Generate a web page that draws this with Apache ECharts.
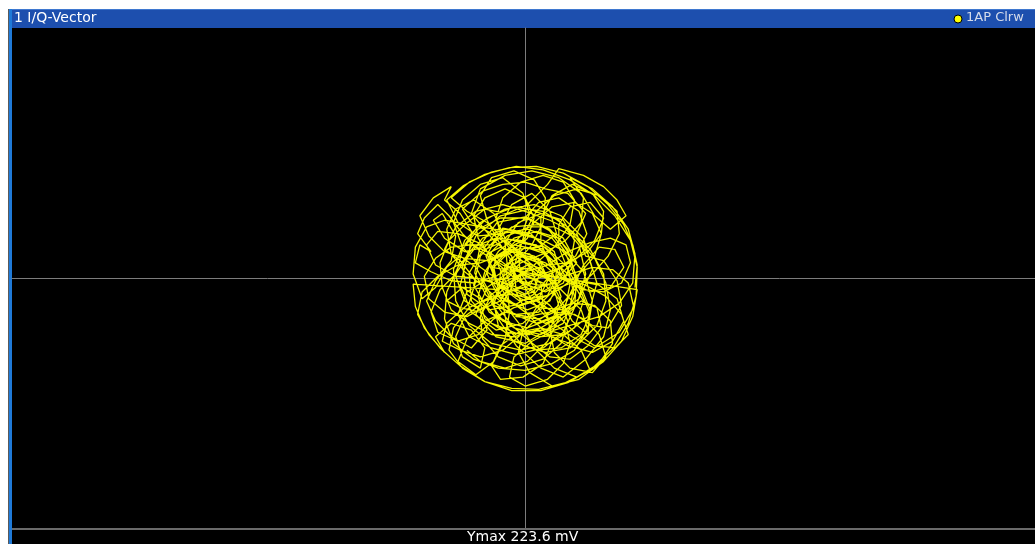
<!DOCTYPE html>
<html>
<head>
<meta charset="utf-8">
<script src="https://cdn.jsdelivr.net/npm/echarts@6/dist/echarts.min.js"></script>
<style>
html,body{margin:0;padding:0;background:#fff;}
#c{width:1035px;height:544px;}
</style>
</head>
<body>
<div id="c"></div>
<script>
// I/Q trace points [I, Q] in mV
const traceOuter = [
[98,-8],[100,12],[96,30],[88,48],[74,66],[56,82],[34,94],[10,100],[-14,99],[-36,93],[-55,83],[-70,70],[-60,50],[-42,38],[-20,40],[-2,52],[12,68],[30,72],[48,60],[55,40],[45,20],[28,8],[8,2],[-12,8],[-30,22],[-48,30],[-66,28],[-80,18],[-90,2],[-86,-18],[-72,-30],[-52,-34],[-34,-24],[-18,-8],[-2,4],[16,-4],[30,-18],[38,-38],[32,-58],[16,-72],[-4,-78],[-24,-70],[-38,-54],[-40,-34],[-30,-14],[-12,-2],[8,12],[26,28],[40,48],[44,70],[34,86],[16,92],[-4,86],[-20,72],[-26,54],[-20,34],[-6,18],[12,6],[32,0],[54,-6],[72,-16],[86,-32],[92,-50],[80,-62],[62,-60],[44,-48],[28,-32],[10,-20],[-10,-14],[-30,-16],[-50,-26],[-64,-44],[-68,-64],[-56,-80],[-36,-92],[-12,-98],[12,-99],[36,-93],[58,-82],[50,-64],[34,-50],[14,-44],[-6,-48],[-22,-60],[-30,-78],[-22,-90],[-2,-88],[16,-76],[24,-56],[20,-34],[8,-12],[-8,10],[-22,30],[-34,52],[-40,74],[-30,90],[-10,96],[8,88],[18,72],[16,50],[6,30],[-8,14],[-26,2],[-46,-4],[-66,-2],[-84,6],[-98,14],[-94,30],[-84,24],[-96,40],[-90,54],[-78,66],[-68,56],[-56,40],[-40,24],[-20,12],[0,6],[20,12],[38,24],[58,32],[76,36],[90,30],[94,14],[86,-4],[70,-12],[52,-10],[36,-2],[22,12],[14,32],[14,54],[24,74],[42,84],[60,76],[70,60],[68,40],[56,24],[38,14],[18,12],[-2,20],[-18,36],[-28,58],[-46,70],[-62,62],[-70,44],[-66,22],[-54,6],[-36,-8],[-18,-24],[-4,-42],[8,-62],[26,-80],[46,-88],[66,-76],[78,-58],[76,-38],[62,-24],[42,-22],[22,-30],[2,-34],[-18,-30],[-36,-38],[-52,-54],[-60,-74],[-44,-86],[-28,-74],[-18,-54],[-14,-30],[-16,-6],[-26,16],[-42,32],[-60,40],[-78,42],[-88,30],[-80,12],[-62,2],[-42,0],[-22,-6],[-4,-18],[14,-26],[34,-28],[52,-36],[66,-50],[72,-70],[60,-84],[40,-80],[26,-66],[22,-46],[30,-26],[44,-10],[60,4],[74,20],[84,40],[82,60],[66,74],[46,80],[26,74],[10,60],[0,42],[-6,22],[-4,0],[6,-20],[22,-38],[42,-52],[62,-62],[84,-48],[97,-26],[92,-4],[78,8],[60,10],[40,4],[20,-6],[0,-10],[-20,-4],[-40,10],[-56,28],[-64,50],[-56,70],[-40,84],[-20,90],[-2,76],[4,58],[-4,38],[-20,22],[-40,14],[-60,12],[-78,2],[-92,-12],[-96,-32],[-86,-50],[-72,-66],[-80,-52],[-66,-40],[-48,-46],[-36,-62],[-40,-80],[-56,-70],[-62,-52],[-54,-34],[-36,-20],[-14,-12],[6,-2],[26,6],[46,18],[62,34],[70,54],[58,68],[40,64],[30,48],[30,28],[38,8],[50,-12],[58,-32],[50,-50],[32,-62],[10,-64],[-10,-56],[-24,-42],[-28,-22],[-20,-2],[-4,14],[16,22],[36,34],[50,50],[52,72],[40,90],[60,80],[78,64],[92,44],[98,22],[96,-4],[84,-22],[66,-34],[46,-40],[26,-46],[6,-56],[-10,-70],[-14,-88],[0,-96],[20,-90],[34,-76],[40,-58],[36,-40],[22,-24],[4,-10],[-14,4],[-30,18],[-42,36],[-46,56],[-36,72],[-18,80],[0,72],[8,54],[2,36],[-14,22],[-34,16],[-54,18],[-72,24],[-86,38],[-94,56],[-82,72],[-66,82],[-72,70],[-58,58],[-48,42],[-50,22],[-62,4],[-76,-10],[-84,-30],[-78,-48],[-60,-56],[-42,-50],[-28,-36],[-10,-26],[10,-20],[30,-10],[48,4],[62,20],[68,40],[60,58],[44,68],[24,64],[8,50],[-4,30],[-10,10],[-8,-12],[2,-32],[18,-48],[38,-60],[60,-66],[78,-56],[88,-38],[82,-18],[66,-6],[46,-2],[26,-10],[10,-26],[-2,-46],[-6,-66],[4,-84],[24,-96],[48,-90],[70,-74],[86,-56],[96,-34],[100,-10]
];
const traceInner = [
[-30,10],[-10,30],[15,25],[30,5],[20,-15],[-5,-20],[-25,-5],[-35,20],[-20,45],[5,40],[25,20],[40,-5],[35,-30],[10,-40],[-15,-30],[-35,-15],[-45,5],[-40,30],[-25,50],[0,55],[20,45],[35,25],[45,0],[40,-25],[20,-45],[-5,-50],[-30,-40],[-48,-20],[-50,5],[-38,25],[-15,35],[10,30],[25,12],[22,-8],[5,-18],[-12,-10],[-18,8],[-8,22],[12,18],[20,0],[8,-14],[-10,-24],[-32,-28],[-52,-14],[-56,12],[-44,38],[-22,56],[4,62],[30,52],[48,30],[54,4],[46,-24],[26,-42],[0,-58],[-26,-52],[-44,-32],[-34,-8],[-14,6],[6,10],[24,-4],[30,-24],[14,-36],[-8,-34],[-24,-16],[-22,6],[-4,16],[16,8],[28,-12],[42,-38],[56,-50],[58,-28],[50,-8],[40,16],[24,36],[2,44],[-22,40],[-40,20],[-46,-6],[-32,-30],[-10,-44],[14,-50],[34,-40],[44,-16],[38,10],[18,28],[-6,32],[-26,20],[-30,-2],[-18,-20],[2,-28],[22,-20],[32,2],[26,24],[6,38],[-18,44],[-38,36],[-52,18],[-58,-6],[-48,-30],[-26,-46],[-2,-40],[16,-24],[14,-4],[-4,4],[-20,-4],[-30,-22],[-20,-38],[2,-44],[28,-34],[48,-18],[60,8],[52,36],[32,56],[8,66],[-18,62],[-40,50],[-54,30],[-30,30],[-12,46],[12,48],[34,36],[46,14],[30,-4],[12,-6],[-6,-2],[-14,16],[0,28],[18,22],[38,4],[52,-20],[44,-44],[22,-58],[-4,-64],[-30,-58],[-50,-42],[-62,-20],[-64,8],[-54,34],[-34,54],[-10,64],[16,60],[38,46],[56,22],[64,-4],[56,-34],[36,-50],[12,-52],[-10,-44],[-24,-26],[-14,-12],[4,-6],[14,10],[4,22],[-14,24],[-28,10],[-24,-10]
];
const traceExtra = [
[-100,-5],[-98,-25],[-90,-44],[-76,-62],[-58,-78],[-36,-92],[-12,-100],[14,-100],[38,-93],[60,-80],[78,-63],[92,-40],[99,-16],[100,10],[94,34],[80,56],[62,74],[40,88],[16,97],[-8,100],[-30,95],[-50,86],[-66,72],[-52,60],[-34,50],[-14,30],[4,14],[20,2],[36,-14],[50,-28],[56,-46],[40,-62],[18,-66],[-2,-60],[-16,-44],[-20,-22],[-10,-4],[8,4],[26,-2],[40,12],[44,34],[34,52],[14,58],[-6,50],[-18,32],[-16,12],[-2,-4],[18,-12],[34,-4],[42,18],[30,36],[10,42],[-10,36],[-24,24],[-36,6],[-42,-16],[-36,-36],[-18,-48],[4,-50],[24,-38],[32,-16],[24,6],[8,20],[-12,26],[-30,16],[-38,-4],[-28,-24],[-8,-32],[12,-30],[26,-14],[28,8],[16,26],[-4,34],[-26,36],[-46,28],[-60,10],[-70,-12],[-72,-36],[-64,-58],[-46,-72],[-24,-80],[0,-82],[24,-76],[44,-64],[56,-44],[60,-20],[52,6],[36,24],[16,34],[-6,40],[-28,44],[-50,48],[-72,52],[-88,46],[-98,28],[-100,4],[-92,-18],[-80,-8],[-70,10],[-58,20],[-44,10],[-32,-12],[-24,-36],[-8,-60],[14,-80],[34,-88],[54,-72],[70,-52],[76,-28],[72,-4],[62,18],[46,36],[26,46],[4,46],[-16,38],[-30,24],[-34,4],[-24,-16],[-6,-24],[12,-18],[20,-2],[12,14],[-4,20],[-18,12],[-20,-6],[-8,-16],[8,-12],[12,2],[2,12],[-10,6],[-12,-8],[0,-14],[10,-6],[6,8],[-6,10],[-16,0],[-36,-2],[-52,-12],[-60,-32],[-50,-52],[-30,-62],[-8,-68],[16,-62],[34,-48],[44,-26],[46,0],[38,26],[22,44],[0,54],[-22,54],[-42,44],[-56,26],[-62,2],[-54,-20],[-40,-28],[-22,-20],[-10,0],[-12,20],[-28,34],[-48,58],[-40,80],[-18,92],[6,96],[30,90],[50,76],[62,56],[76,44],[90,56],[82,70],[70,82],[52,92],[30,98]
];
const traceMid = [
[20,84],[2,66],[-16,58],[-36,62],[-54,48],[-68,34],[-76,14],[-74,-8],[-66,-28],[-50,-40],[-30,-50],[-10,-52],[10,-46],[28,-54],[46,-60],[64,-42],[72,-20],[70,4],[58,26],[42,42],[22,52],[0,60],[-20,66],[-44,60],[-62,46],[-72,26],[-58,16],[-44,-2],[-50,-22],[-70,-40],[-74,-56],[-58,-64],[-40,-70],[-20,-64],[-6,-52],[8,-38],[26,-30],[44,-32],[60,-42],[74,-44],[86,-24],[82,-2],[70,16],[54,20],[46,40],[54,58],[38,76],[18,80],[0,86],[-20,84],[-38,78],[-56,62],[-48,50],[-30,40],[-8,26],[12,28],[28,40],[22,60],[6,76],[-12,66],[-24,44],[-36,28],[-54,24],[-72,36],[-82,52],[-74,58],[-62,38],[-66,16],[-80,-2],[-88,-20],[-80,-38],[-66,-52],[-48,-62],[-34,-46],[-40,-30],[-58,-26],[-70,-20],[-56,-8],[-40,-18],[-28,-32],[-14,-40],[4,-56],[22,-70],[40,-72],[56,-60],[68,-44],[64,-26],[50,-20],[34,-32],[18,-40],[0,-30],[-16,-18],[-26,0],[-34,22],[-22,28],[-4,22],[18,14],[40,-2],[58,-12],[76,-8],[88,10],[80,26],[66,28],[52,12],[40,-14],[30,-36],[20,-56],[2,-74],[-18,-80],[-40,-74],[-52,-64]
];
const titleText = '1 I/Q-Vector';
const traceLabel = '1AP Clrw';
const yMaxLabel = 'Ymax 223.6 mV';
const yMax = 223.6;

const chart = echarts.init(document.getElementById('c'), null, {renderer:'canvas'});
const trace = traceOuter.concat(traceInner, traceExtra, traceMid);
const font = '"DejaVu Sans", Verdana, sans-serif';
chart.setOption({
  animation:false,
  backgroundColor:'#ffffff',
  grid:{left:12, right:0, top:28, bottom:15, show:false},
  xAxis:{type:'value', min:-458, max:455,
    axisLine:{show:true, onZero:true, lineStyle:{color:'#7c7c7c', width:1}},
    axisTick:{show:false}, axisLabel:{show:false}, splitLine:{show:false}},
  yAxis:{type:'value', min:-yMax, max:yMax,
    axisLine:{show:true, onZero:true, lineStyle:{color:'#7c7c7c', width:1}},
    axisTick:{show:false}, axisLabel:{show:false}, splitLine:{show:false}},
  graphic:[
    {type:'rect', z:-10, shape:{x:12,y:28,width:1023,height:516}, style:{fill:'#000000'}, silent:true},
    {type:'rect', z:-10, shape:{x:8,y:9,width:1,height:535}, style:{fill:'#5a5a5a'}, silent:true},
    {type:'rect', z:-10, shape:{x:9,y:9,width:3,height:535}, style:{fill:'#1f7ad8'}, silent:true},
    {type:'rect', z:-10, shape:{x:12,y:9,width:1023,height:19}, style:{fill:'#1d4fae'}, silent:true},
    {type:'rect', z:-10, shape:{x:12,y:9,width:1023,height:1}, style:{fill:'#3f78d0'}, silent:true},
    {type:'rect', z:10, shape:{x:12,y:528,width:1023,height:2}, style:{fill:'#6a6a6a'}, silent:true},
    {type:'text', z:10, left:14, top:11, style:{text:titleText, fill:'#ffffff', font:'14px '+font}},
    {type:'circle', z:10, shape:{cx:958, cy:19, r:4}, style:{fill:'#ffff00', stroke:'#000000', lineWidth:1}},
    {type:'text', z:10, left:966, top:11, style:{text:traceLabel, fill:'#d6dcea', font:'13px '+font}},
    {type:'text', z:10, left:467, top:530, style:{text:yMaxLabel, fill:'#ffffff', font:'14px '+font}}
  ],
  series:[{
    type:'line', data:trace, showSymbol:false, symbol:'none', smooth:false,
    lineStyle:{color:'#f6f600', width:1.3}, z:3, silent:true
  }]
});
</script>
</body>
</html>
